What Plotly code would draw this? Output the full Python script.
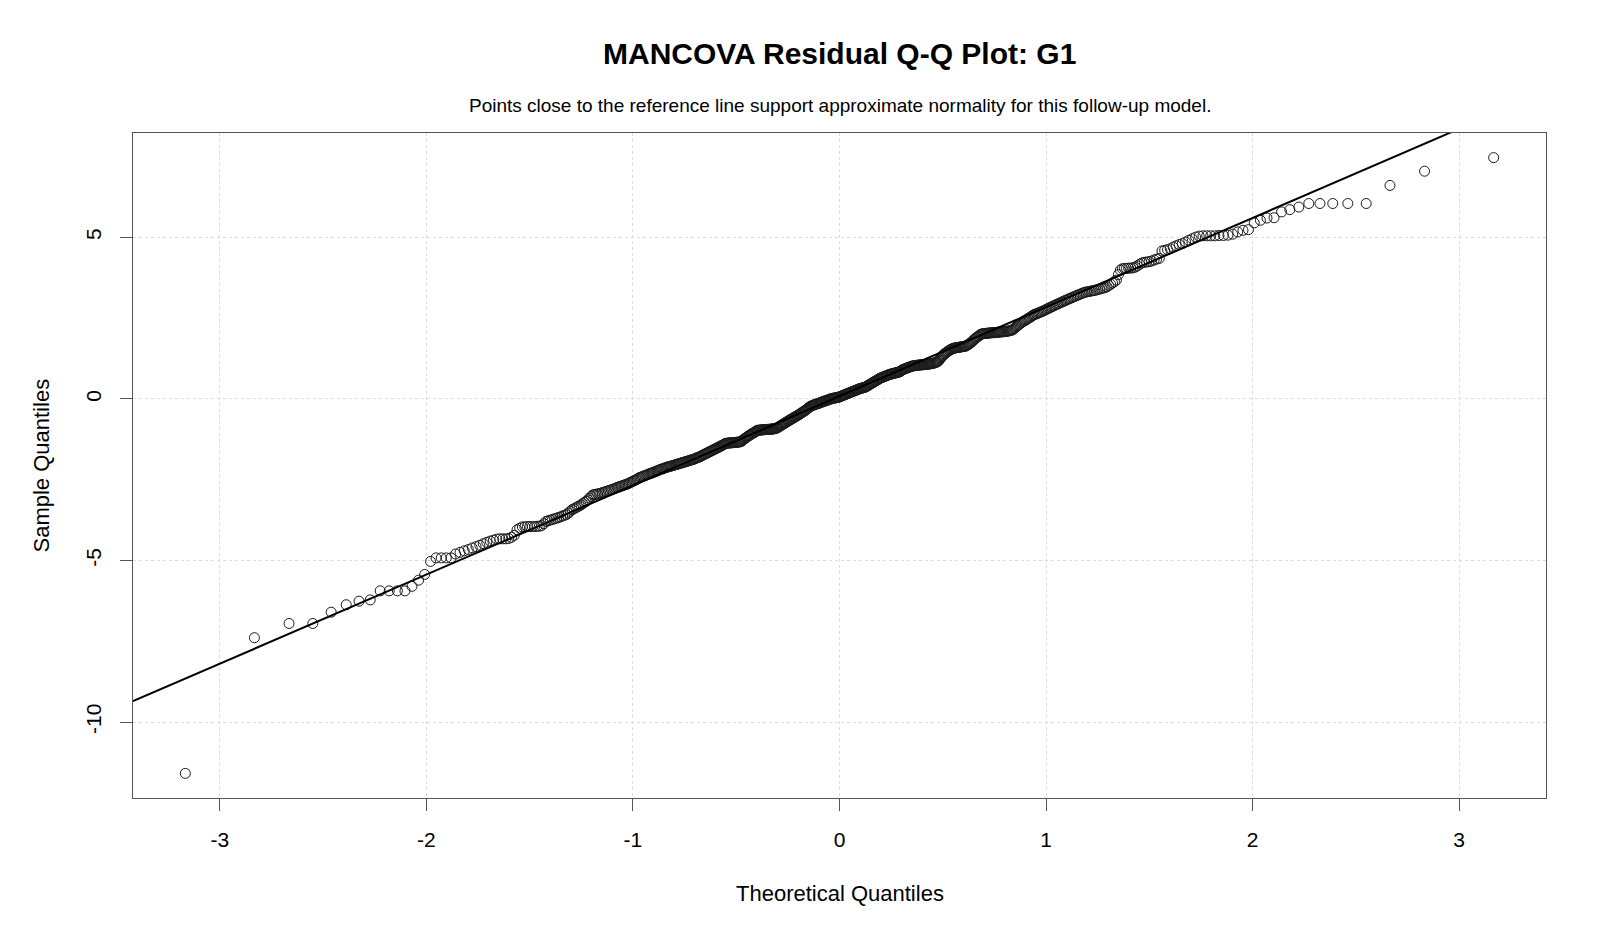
import plotly.graph_objects as go
from statistics import NormalDist
import numpy as np

# ---------------- data (sorted sample residuals) ----------------
sample_quantiles = [
    -11.59, -7.39, -6.95, -6.95, -6.60, -6.37, -6.26, -6.22, -5.94, -5.94, -5.94, -5.94, -5.80, -5.61, -5.43, -5.03,
    -4.92, -4.92, -4.92, -4.92,
    -4.80, -4.75, -4.70, -4.66, -4.61, -4.57, -4.53, -4.48, -4.44, -4.40, -4.37, -4.34,
    -4.33, -4.33, -4.33, -4.32, -4.28, -4.22,
    -4.05, -4.00,
    -3.96, -3.96, -3.95, -3.95, -3.95, -3.95, -3.94, -3.94,
    -3.92, -3.86, -3.79, -3.77, -3.75, -3.73, -3.71, -3.69, -3.67, -3.65, -3.62, -3.60, -3.58,
    -3.53, -3.48, -3.43, -3.40, -3.37, -3.34, -3.31, -3.28, -3.24, -3.20, -3.17, -3.12, -3.07, -3.02, -2.97,
    -2.96, -2.95, -2.94, -2.93, -2.92, -2.90, -2.89, -2.87, -2.86,
    -2.84, -2.83, -2.81, -2.80, -2.78, -2.76,
    -2.74, -2.73, -2.71, -2.70, -2.68, -2.67, -2.65, -2.64, -2.62, -2.60,
    -2.58, -2.56, -2.54, -2.52, -2.50, -2.48, -2.45,
    -2.43, -2.42, -2.40, -2.39, -2.37, -2.36, -2.34, -2.33, -2.31, -2.30, -2.29, -2.27, -2.26, -2.24, -2.23,
    -2.21, -2.20, -2.18, -2.17, -2.16, -2.15, -2.13, -2.12,
    -2.11, -2.10, -2.09, -2.08, -2.07, -2.06, -2.05, -2.04, -2.03, -2.02, -2.01, -2.00, -1.99, -1.98, -1.97,
    -1.96, -1.95, -1.94, -1.93, -1.92, -1.91, -1.90, -1.89, -1.88, -1.87, -1.86, -1.85, -1.83, -1.82, -1.81,
    -1.80, -1.78, -1.77,
    -1.75, -1.73, -1.72, -1.70, -1.69, -1.67, -1.66, -1.64, -1.63, -1.61, -1.60, -1.58, -1.57, -1.55, -1.54,
    -1.52, -1.51, -1.49, -1.48, -1.46, -1.45, -1.43, -1.42, -1.40, -1.38,
    -1.37, -1.37, -1.37, -1.36, -1.36, -1.36, -1.36, -1.35, -1.35, -1.35, -1.35, -1.34, -1.34, -1.34, -1.33,
    -1.33, -1.32, -1.31,
    -1.28, -1.26, -1.24, -1.22, -1.20, -1.18, -1.16, -1.14, -1.13, -1.11, -1.09, -1.07, -1.06, -1.04, -1.03,
    -1.01, -0.99,
    -0.97, -0.97, -0.97, -0.96, -0.96, -0.96, -0.96, -0.95, -0.95, -0.95, -0.95, -0.95, -0.94, -0.94, -0.94,
    -0.94, -0.93, -0.93, -0.93, -0.93, -0.92, -0.92, -0.91, -0.90, -0.89,
    -0.87, -0.85, -0.84, -0.82, -0.81, -0.79, -0.77, -0.76, -0.74, -0.73, -0.71, -0.69, -0.68, -0.66, -0.65,
    -0.63, -0.62, -0.60, -0.59, -0.57, -0.56, -0.54, -0.53, -0.51, -0.50, -0.48, -0.47, -0.45, -0.43, -0.42,
    -0.40, -0.38, -0.37, -0.35, -0.33, -0.31, -0.29, -0.27, -0.25,
    -0.23, -0.22, -0.21, -0.20, -0.19, -0.18, -0.17, -0.16, -0.15, -0.15, -0.14, -0.13, -0.12, -0.11, -0.10,
    -0.09, -0.08, -0.07, -0.06, -0.06, -0.05, -0.04, -0.03, -0.02, -0.01, 0.00, 0.00, 0.01, 0.02, 0.02,
    0.03, 0.03, 0.04, 0.04, 0.05, 0.05, 0.06, 0.07,
    0.08, 0.09, 0.10, 0.11, 0.12, 0.13, 0.14, 0.15, 0.16, 0.17, 0.18, 0.19, 0.20, 0.21, 0.22, 0.23, 0.24,
    0.25, 0.26, 0.27, 0.28, 0.29, 0.30, 0.31, 0.32, 0.32, 0.33, 0.34, 0.35, 0.35, 0.36, 0.37, 0.38,
    0.40, 0.41, 0.43, 0.44, 0.46, 0.47, 0.49, 0.50, 0.52, 0.53, 0.55, 0.56, 0.58, 0.59, 0.61, 0.62, 0.64,
    0.65, 0.66, 0.67, 0.68, 0.69, 0.70, 0.71, 0.72, 0.73, 0.74, 0.75, 0.76,
    0.77, 0.77, 0.78, 0.79, 0.79, 0.80, 0.81, 0.81, 0.82, 0.83, 0.83, 0.84,
    0.86, 0.88, 0.90, 0.91, 0.92, 0.93, 0.94, 0.95, 0.96, 0.97, 0.98, 0.99, 1.00, 1.01, 1.02, 1.02, 1.03, 1.03,
    1.04, 1.04, 1.04, 1.05, 1.05, 1.05, 1.05, 1.06, 1.06, 1.06, 1.06, 1.07, 1.07, 1.07, 1.08, 1.08, 1.08,
    1.09, 1.09, 1.10, 1.10, 1.11, 1.12, 1.13, 1.14, 1.15, 1.17,
    1.20, 1.24, 1.28, 1.31, 1.34, 1.37, 1.40, 1.42, 1.44, 1.46, 1.48, 1.50, 1.52, 1.53, 1.55, 1.56,
    1.57, 1.58, 1.58, 1.59, 1.59, 1.60, 1.60, 1.61, 1.61, 1.62, 1.62, 1.63, 1.63, 1.64,
    1.66, 1.68, 1.70, 1.72, 1.74, 1.77, 1.80, 1.83, 1.86, 1.89, 1.91, 1.93, 1.95,
    1.98, 2.00, 2.01, 2.02, 2.02, 2.03, 2.03, 2.03, 2.04, 2.04, 2.04, 2.05, 2.05, 2.05, 2.05, 2.06, 2.06,
    2.06, 2.07, 2.07, 2.07, 2.08, 2.08, 2.08, 2.09, 2.09, 2.10, 2.10, 2.11, 2.12, 2.13, 2.14,
    2.17, 2.20, 2.23, 2.26, 2.29, 2.32, 2.35, 2.37, 2.40, 2.42, 2.44, 2.46, 2.49, 2.51, 2.53, 2.56, 2.59,
    2.61, 2.62, 2.64, 2.65, 2.67, 2.69, 2.70, 2.72, 2.74, 2.76, 2.78, 2.80, 2.82, 2.84, 2.86, 2.88, 2.90,
    2.92, 2.94, 2.96, 2.98, 3.00, 3.02, 3.04, 3.06,
    3.08, 3.10, 3.12, 3.14, 3.16, 3.18, 3.20, 3.22, 3.24, 3.26, 3.28, 3.30, 3.31,
    3.32, 3.33, 3.34, 3.35, 3.36, 3.37, 3.39, 3.40, 3.42, 3.43, 3.45, 3.47,
    3.51, 3.55, 3.59, 3.63, 3.68,
    3.85, 3.99,
    4.03, 4.04, 4.04, 4.05, 4.05, 4.06, 4.08, 4.12, 4.17,
    4.21, 4.23, 4.24, 4.25, 4.27, 4.30, 4.33, 4.35,
    4.58, 4.60, 4.62, 4.65,
    4.70, 4.74, 4.78, 4.81,
    4.86, 4.91, 4.96, 5.01,
    5.04, 5.05, 5.05, 5.05, 5.05, 5.06, 5.06, 5.07,
    5.10, 5.17, 5.22, 5.24, 5.45, 5.53, 5.60, 5.61, 5.79, 5.86, 5.94,
    6.05, 6.05, 6.05, 6.05, 6.05, 6.61, 7.05, 7.47,
]

x_tick_vals = [-3, -2, -1, 0, 1, 2, 3]
x_tick_text = ["-3", "-2", "-1", "0", "1", "2", "3"]
y_tick_vals = [-10, -5, 0, 5]
y_tick_text = ["-10", "-5", "0", "5"]

title_text = "MANCOVA Residual Q-Q Plot: G1"
subtitle_text = "Points close to the reference line support approximate normality for this follow-up model."
x_title = "Theoretical Quantiles"
y_title = "Sample Quantiles"

# ---------------- Q-Q computation (as qqnorm / qqline) ----------------
y = np.sort(np.array(sample_quantiles))
n = len(y)
a = 3 / 8 if n <= 10 else 0.5
nd = NormalDist()
x = np.array([nd.inv_cdf((i - a) / (n + 1 - 2 * a)) for i in range(1, n + 1)])

q1, q3 = np.quantile(y, [0.25, 0.75])
z1, z3 = nd.inv_cdf(0.25), nd.inv_cdf(0.75)
slope = (q3 - q1) / (z3 - z1)
intercept = q1 - slope * z1

def r_range(v):
    lo, hi = float(np.min(v)), float(np.max(v))
    d = (hi - lo) * 0.04
    return [lo - d, hi + d]

xr = r_range(x)
yr = r_range(y)
line_x = np.array(xr)
line_y = intercept + slope * line_x

FONT = "Liberation Sans, Arial, sans-serif"

fig = go.Figure()
fig.add_trace(go.Scatter(
    x=x, y=y, mode="markers",
    marker=dict(symbol="circle-open", size=10, color="#1a1a1a", line=dict(width=1, color="#1a1a1a")),
    showlegend=False, hoverinfo="x+y",
))
fig.add_trace(go.Scatter(
    x=line_x, y=line_y, mode="lines",
    line=dict(color="black", width=2),
    showlegend=False, hoverinfo="skip",
))

axis_common = dict(
    showline=True, mirror=True, linecolor="#555555", linewidth=1,
    ticks="outside", ticklen=12, tickcolor="#555555", tickwidth=1,
    ticklabelstandoff=11,
    showgrid=True, gridcolor="#dcdcdc", griddash="dot", gridwidth=1,
    zeroline=False, tickfont=dict(family=FONT, size=21, color="black"),
)

fig.update_layout(
    width=1600, height=933,
    margin=dict(l=133, r=54, t=133, b=135),
    paper_bgcolor="white", plot_bgcolor="white",
    font=dict(family=FONT, color="black"),
    xaxis=dict(range=xr, tickvals=x_tick_vals, ticktext=x_tick_text, **axis_common),
    yaxis=dict(range=yr, tickvals=y_tick_vals, ticktext=y_tick_text, tickangle=-90, **axis_common),
    annotations=[
        dict(text="<b>" + title_text + "</b>", xref="paper", yref="paper", x=0.5, y=1.1203,
             xanchor="center", yanchor="middle", showarrow=False,
             font=dict(family=FONT, size=30, color="black")),
        dict(text=subtitle_text, xref="paper", yref="paper", x=0.5, y=1.0421,
             xanchor="center", yanchor="middle", showarrow=False,
             font=dict(family=FONT, size=19, color="black")),
        dict(text=x_title, xref="paper", yref="paper", x=0.5, y=-0.1429,
             xanchor="center", yanchor="middle", showarrow=False,
             font=dict(family=FONT, size=22, color="black")),
        dict(text=y_title, xref="paper", yref="paper", x=-0.0651, y=0.5,
             xanchor="center", yanchor="middle", showarrow=False, textangle=-90,
             font=dict(family=FONT, size=22, color="black")),
    ],
)

fig.write_html("out.html")
